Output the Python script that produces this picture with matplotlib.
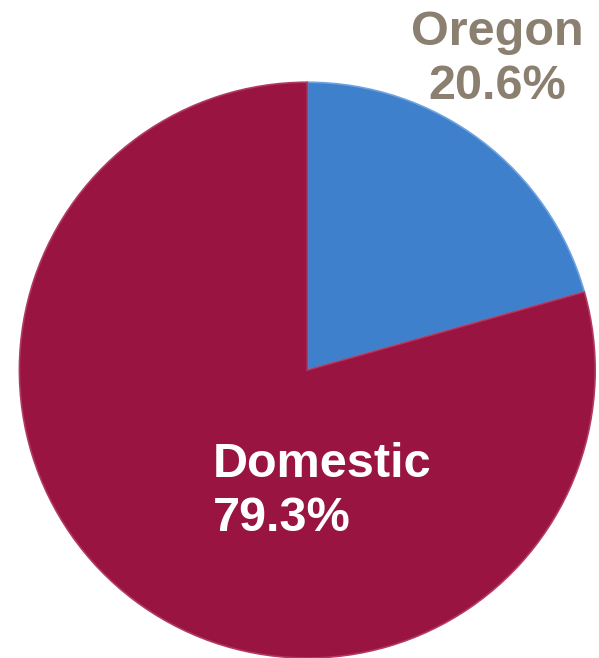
import matplotlib.pyplot as plt

labels = ["Oregon", "Domestic"]
shares = [20.6, 79.3]
colors = ["#3f80cc", "#9a1442"]

plt.rcParams['font.family'] = ['Liberation Sans', 'DejaVu Sans']

fig = plt.figure(figsize=(5.99, 6.58), dpi=100)
ax = fig.add_axes([0.032, 0.0, 0.962, 0.875])

wedges, _ = ax.pie(shares, colors=colors, startangle=90, counterclock=False,
                   wedgeprops=dict(edgecolor="#b03a60", linewidth=1.2))
wedges[0].set_edgecolor("#6fa3e0")
ax.set_xlim(-1.0, 1.0)
ax.set_ylim(-1.0, 1.0)
ax.set_aspect("equal")
ax.axis("off")

# slice labels
fig.text(0.83, 0.910, f"{labels[0]}\n{shares[0]}%", ha="center", va="center",
         fontsize=35, fontweight="bold", color="#8b8070", linespacing=1.26)
fig.text(0.356, 0.2525, f"{labels[1]}\n{shares[1]}%", ha="left", va="center",
         fontsize=35, fontweight="bold", color="white", linespacing=1.26)

fig.savefig("out.png", dpi=100)
